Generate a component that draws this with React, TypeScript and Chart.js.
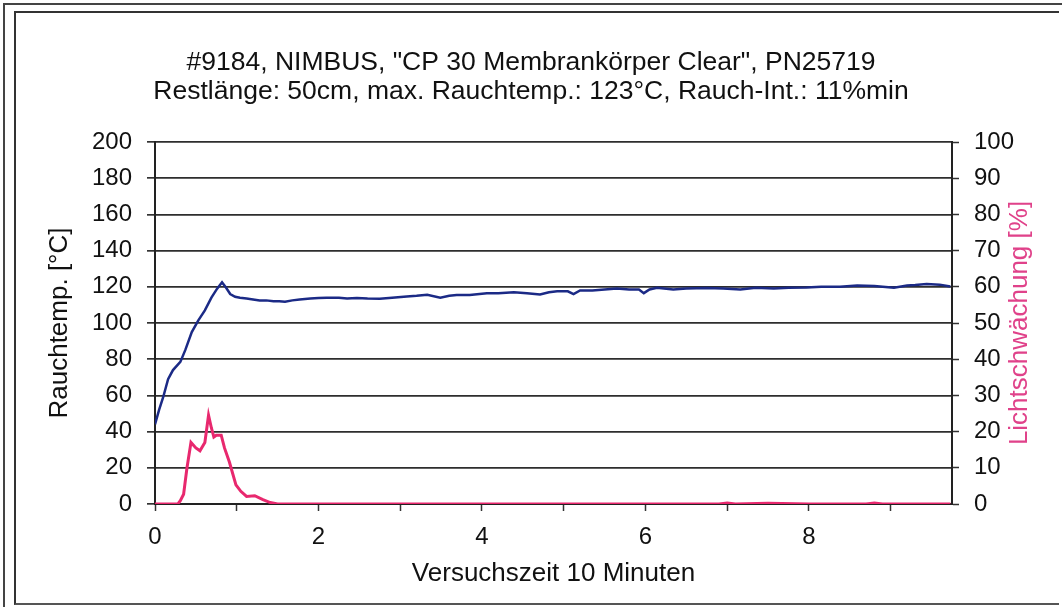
import React, { useEffect, useRef } from "react";
import { Chart, registerables } from "chart.js";

Chart.register(...registerables);

const titleLines = [
  '#9184, NIMBUS, "CP 30 Membrankörper Clear", PN25719',
  "Restlänge: 50cm, max. Rauchtemp.: 123°C, Rauch-Int.: 11%min",
];
const xAxisTitle = "Versuchszeit 10 Minuten";
const leftAxisTitle = "Rauchtemp. [°C]";
const rightAxisTitle = "Lichtschwächung [%]";

// Rauchtemperatur (°C) over time (minutes)
const tempTime = [
  0, 0.05, 0.1, 0.16, 0.22, 0.31, 0.37, 0.45, 0.53, 0.61, 0.69, 0.76, 0.82, 0.87, 0.92,
  0.98, 1.04, 1.12, 1.2, 1.28, 1.36, 1.45, 1.52, 1.59, 1.68, 1.77, 1.9, 2.0, 2.1, 2.25,
  2.35, 2.47, 2.6, 2.75, 2.9, 3.08, 3.2, 3.33, 3.49, 3.6, 3.69, 3.85, 4.06, 4.2, 4.39,
  4.55, 4.71, 4.82, 4.92, 5.05, 5.12, 5.2, 5.35, 5.5, 5.65, 5.8, 5.92, 5.98, 6.05, 6.14,
  6.34, 6.5, 6.75, 6.95, 7.16, 7.35, 7.57, 7.75, 7.97, 8.15, 8.38, 8.59, 8.8, 9.04, 9.2,
  9.3, 9.44, 9.6, 9.73,
];
const tempValues = [
  44, 52, 59, 69, 74, 78.5, 85, 95, 101.5, 107, 114, 119, 122.5, 119.5, 116,
  114.5, 114, 113.5, 113, 112.5, 112.5, 112, 112, 111.8, 112.5, 113, 113.5, 113.8, 114, 114,
  113.5, 113.8, 113.5, 113.4, 114, 114.7, 115, 115.6, 114, 115, 115.5, 115.5, 116.4, 116.5, 117,
  116.5, 115.8, 117, 117.5, 117.5, 116, 118, 118, 118.5, 119, 118.5, 118.5, 116.5, 118.5, 119.5,
  118.5, 119, 119.3, 119, 118.5, 119.5, 119, 119.5, 119.6, 120, 120, 120.7, 120.5, 119.5, 120.7,
  121, 121.6, 121.2, 120.2,
];

// Lichtschwächung (%) over time (minutes)
const lightTime = [
  0, 0.28, 0.31, 0.35, 0.39, 0.44, 0.5, 0.55, 0.61, 0.655, 0.69, 0.72, 0.75, 0.81, 0.85,
  0.91, 0.99, 1.05, 1.12, 1.22, 1.32, 1.41, 1.5, 2.0, 3.0, 4.0, 5.0, 6.0, 6.9, 7.0, 7.1,
  7.5, 8.0, 8.7, 8.8, 8.9, 9.73,
];
const lightValues = [
  0, 0, 0.9, 2.7, 9.8, 17, 15.5, 14.7, 17, 24.5, 21, 18.5, 19, 19, 15.5,
  11.6, 5.3, 3.5, 2.1, 2.3, 1.2, 0.4, 0, 0, 0, 0, 0, 0, 0, 0.3, 0,
  0.2, 0, 0, 0.3, 0, 0,
];

const xMin = 0;
const xMax = 9.75;
const leftMin = 0;
const leftMax = 200;
const leftStep = 20;
const rightMin = 0;
const rightMax = 100;
const rightStep = 10;

const FONT = '"Liberation Sans", Arial, sans-serif';
const BLUE = "#1b2a86";
const PINK = "#e8286e";
const PINK_TEXT = "#e0428a";
const INK = "#111";

export default function App() {
  const canvasRef = useRef<HTMLCanvasElement | null>(null);

  useEffect(() => {
    if (!canvasRef.current) return;
    const rightTitlePlugin = {
      id: "rightTitle",
      afterDraw(chart: any) {
        const { ctx, chartArea } = chart;
        ctx.save();
        ctx.translate(1020, (chartArea.top + chartArea.bottom) / 2);
        ctx.rotate(-Math.PI / 2);
        ctx.textAlign = "center";
        ctx.textBaseline = "middle";
        ctx.font = `26px ${FONT}`;
        ctx.fillStyle = PINK_TEXT;
        ctx.fillText(rightAxisTitle, 0, 0);
        ctx.restore();
      },
    };

    const chart = new Chart(canvasRef.current, {
      type: "line",
      data: {
        datasets: [
          {
            label: "Lichtschwächung",
            data: lightTime.map((t, i) => ({ x: t, y: lightValues[i] })),
            borderColor: PINK,
            borderWidth: 3,
            pointRadius: 0,
            tension: 0,
            yAxisID: "y1",
          },
          {
            label: "Rauchtemp.",
            data: tempTime.map((t, i) => ({ x: t, y: tempValues[i] })),
            borderColor: BLUE,
            borderWidth: 2.5,
            pointRadius: 0,
            tension: 0,
            yAxisID: "y",
          },
        ],
      },
      plugins: [rightTitlePlugin],
      options: {
        responsive: false,
        animation: false,
        devicePixelRatio: 1,
        layout: { padding: 0 },
        plugins: {
          legend: { display: false },
          tooltip: { enabled: false },
          title: {
            display: true,
            text: titleLines,
            color: INK,
            font: { family: FONT, size: 26.5, weight: "normal", lineHeight: "29px" },
            padding: { top: 48.5, bottom: 35.5 },
          },
        },
        scales: {
          x: {
            type: "linear",
            min: xMin,
            max: xMax,
            afterFit: (s: any) => {
              s.height = 103;
            },
            ticks: {
              stepSize: 1,
              autoSkip: false,
              includeBounds: false,
              maxRotation: 0,
              padding: 12,
              color: INK,
              font: { family: FONT, size: 24 },
              callback: (v: any) => (Number(v) % 2 === 0 ? String(v) : ""),
            },
            grid: {
              drawOnChartArea: false,
              drawTicks: true,
              tickLength: 7,
              tickColor: "#333",
              tickWidth: 1.5,
            },
            border: { display: true, color: "#222", width: 2 },
            title: {
              display: true,
              text: xAxisTitle,
              color: INK,
              font: { family: FONT, size: 26 },
              padding: { top: 0, bottom: 18 },
            },
          },
          y: {
            type: "linear",
            position: "left",
            min: leftMin,
            max: leftMax,
            afterFit: (s: any) => {
              s.width = 155;
            },
            ticks: {
              stepSize: leftStep,
              padding: 15,
              color: INK,
              font: { family: FONT, size: 24 },
            },
            grid: {
              color: "#2e2e2e",
              lineWidth: 1.7,
              drawTicks: true,
              tickLength: 8,
              tickColor: "#333",
            },
            border: { display: true, color: "#222", width: 2 },
            title: {
              display: true,
              text: leftAxisTitle,
              color: INK,
              font: { family: FONT, size: 26 },
              padding: { top: 44, bottom: 0 },
            },
          },
          y1: {
            type: "linear",
            position: "right",
            min: rightMin,
            max: rightMax,
            afterFit: (s: any) => {
              s.width = 110;
            },
            ticks: {
              stepSize: rightStep,
              padding: 15,
              color: INK,
              font: { family: FONT, size: 24 },
            },
            grid: {
              drawOnChartArea: false,
              drawTicks: true,
              tickLength: 7,
              tickColor: "#333",
              tickWidth: 1.5,
            },
            border: { display: true, color: "#222", width: 2 },
          },
        },
      },
    } as any);
    return () => chart.destroy();
  }, []);

  return (
    <div
      style={{
        position: "fixed",
        left: 0,
        top: 0,
        width: 1062,
        height: 607,
        background: "#fff",
        overflow: "hidden",
      }}
    >
      <div
        style={{
          position: "absolute",
          left: 3,
          top: 3,
          width: 1070,
          height: 620,
          borderLeft: "2px solid #444",
          borderTop: "2px solid #444",
        }}
      />
      <div
        style={{
          position: "absolute",
          left: 14,
          top: 11,
          width: 1043,
          height: 590,
          borderLeft: "2px solid #333",
          borderTop: "2px solid #333",
          borderBottom: "2px solid #555",
        }}
      />
      <canvas
        ref={canvasRef}
        width={1062}
        height={607}
        style={{ position: "absolute", left: 0, top: 0 }}
      />
    </div>
  );
}
